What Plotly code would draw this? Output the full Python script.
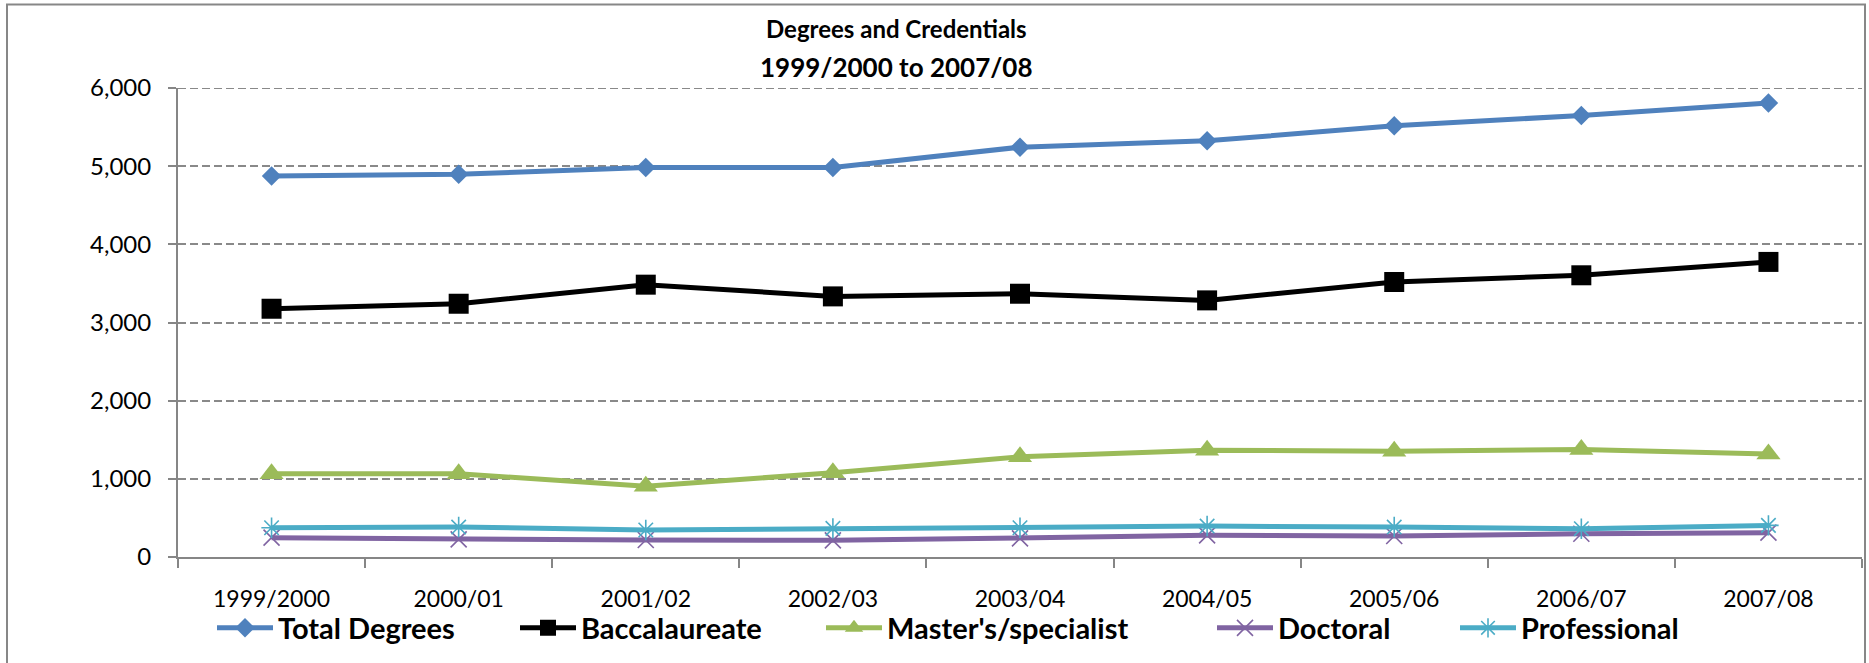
import plotly.graph_objects as go

# ---- data ----
categories = ["1999/2000", "2000/01", "2001/02", "2002/03", "2003/04",
              "2004/05", "2005/06", "2006/07", "2007/08"]
total_degrees = [4875, 4896, 4982, 4982, 5243, 5324, 5516, 5649, 5807]
baccalaureate = [3176, 3240, 3484, 3334, 3368, 3283, 3518, 3604, 3775]
masters = [1064, 1064, 906, 1077, 1281, 1366, 1353, 1374, 1319]
doctoral = [247, 226, 217, 213, 238, 277, 268, 298, 311]
professional = [374, 383, 345, 366, 374, 396, 383, 362, 404]

series_names = ["Total Degrees", "Baccalaureate", "Master's/specialist",
                "Doctoral", "Professional"]
title_lines = ["Degrees and Credentials", "1999/2000 to 2007/08"]
y_max = 6000

# ---- layout constants ----
W, H = 1869, 663
ML, MR, MT, MB = 178, 7, 88, 106
PW = W - ML - MR
PH = H - MT - MB
FONT = "Lato, 'Open Sans', Arial, sans-serif"
AXIS_GRAY = "#868686"
GRID_GRAY = "#898989"


def px_x(x):
    return (x - ML) / PW


def px_y(y):
    return (H - MB - y) / PH


styles = [
    dict(color="#4F81BD", symbol="diamond", size=15, lw=0),
    dict(color="#000000", symbol="square", size=20, lw=0),
    dict(color="#9BBB59", symbol="triangle-up", size=21, lw=0),
    dict(color="#8064A2", symbol="x-thin-open", size=16, lw=1.6),
    dict(color="#4BACC6", symbol="asterisk-open", size=17, lw=1.6),
]
values = [total_degrees, baccalaureate, masters, doctoral, professional]
legend_ids = ["legend", "legend2", "legend3", "legend4", "legend5"]
legend_px = [212, 515, 821, 1212, 1455]

fig = go.Figure()
for name, vals, st, lid in zip(series_names, values, styles, legend_ids):
    fig.add_trace(go.Scatter(
        x=categories, y=vals, name=name, mode="lines+markers",
        line=dict(color=st["color"], width=5),
        marker=dict(symbol=st["symbol"], size=st["size"], color=st["color"],
                    line=dict(color=st["color"], width=st["lw"])),
        legend=lid,
    ))

legend_layout = {}
for lid, lx in zip(legend_ids, legend_px):
    legend_layout[lid] = dict(
        orientation="h", x=px_x(lx), y=px_y(628), xanchor="left",
        yanchor="middle",
        font=dict(family=FONT, size=29, color="#000000", weight="bold"),
        itemwidth=56, bgcolor="rgba(0,0,0,0)", borderwidth=0,
        itemclick=False, itemdoubleclick=False,
    )

annotations = []
for line, ypix, fsize in zip(title_lines, [28, 67], [24, 26]):
    annotations.append(dict(
        text="<b>%s</b>" % line, xref="paper", yref="paper",
        x=px_x(896), y=px_y(ypix), xanchor="center", yanchor="middle",
        showarrow=False, font=dict(family=FONT, size=fsize, color="#000000"),
    ))

fig.update_layout(
    width=W, height=H,
    margin=dict(l=ML, r=MR, t=MT, b=MB, pad=0),
    paper_bgcolor="white", plot_bgcolor="white",
    showlegend=True,
    annotations=annotations,
    shapes=[
        dict(type="rect", xref="paper", yref="paper",
             x0=px_x(7), x1=px_x(1865), y0=px_y(720), y1=px_y(4.5),
             line=dict(color="#878787", width=2), layer="below"),
        # top gridline (plotly hides the gridline on the plot edge)
        dict(type="line", xref="paper", yref="y", x0=0, x1=1,
             y0=y_max, y1=y_max,
             line=dict(color=GRID_GRAY, width=2, dash="8px,4px"),
             layer="below"),
    ],
    **legend_layout,
)

fig.update_xaxes(
    type="category", range=[-0.5, len(categories) - 0.5],
    tickson="boundaries", ticks="outside", ticklen=9, tickwidth=2,
    tickcolor=AXIS_GRAY, showline=True, linecolor=AXIS_GRAY, linewidth=2,
    showgrid=False, ticklabelstandoff=20,
    tickfont=dict(family=FONT, size=23, color="#000000"),
)
fig.update_yaxes(
    range=[0, y_max], dtick=1000, tickformat=",d",
    ticks="outside", ticklen=8, tickwidth=2, tickcolor=AXIS_GRAY,
    showline=True, linecolor=AXIS_GRAY, linewidth=2,
    showgrid=True, gridcolor=GRID_GRAY, gridwidth=2, griddash="8px,4px",
    zeroline=False, ticklabelstandoff=12,
    tickfont=dict(family=FONT, size=24, color="#000000"),
)

fig.write_html("out.html", config={"displayModeBar": False},
               post_script="document.body.style.margin='0';")
